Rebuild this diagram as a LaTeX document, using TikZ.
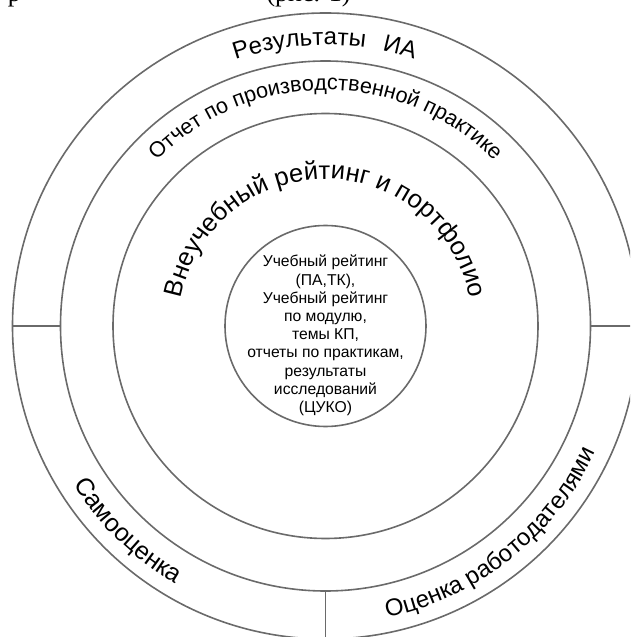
\documentclass[tikz,border=0pt]{standalone}
\usepackage{fontspec}
\setmainfont{Liberation Serif}
\newfontfamily\af{Liberation Sans}
\usetikzlibrary{decorations.text}
\definecolor{ringgray}{HTML}{6A6A6A}
\begin{document}
\begin{tikzpicture}[x=1pt,y=1pt,
  ring/.style={circle, draw=ringgray, line width=1.6pt, inner sep=0pt, outer sep=0pt},
  ringline/.style={draw=ringgray, line width=1.6pt},
  coretext/.style={align=center, inner sep=0pt, font=\af\fontsize{15.7}{18.2}\selectfont},
  fragment/.style={anchor=base, inner sep=0pt, font=\fontsize{26}{30}\selectfont}
]
\useasboundingbox (-325.5,-311) rectangle (304.5,326);
\clip (-325.5,-311) rectangle (304.5,326);
% rings
\node[ring, minimum size=626pt] (c1) at (0,0) {};
\node[ring, minimum size=530pt] (c2) at (0,0) {};
\node[ring, minimum size=425pt] (c3) at (0,0) {};
\node[ring, minimum size=201pt] (c4) at (0,0) {};
% radial separators
\draw[ringline] (c2.west) -- (c1.west);
\draw[ringline] (c2.east) -- (c1.east);
\draw[ringline] (c2.south) -- (c1.south);
% core text
\node[coretext] (core) at (0,-9.5) {Учебный рейтинг\\(ПА,ТК),\\Учебный рейтинг\\по модулю,\\темы КП,\\отчеты по практикам,\\результаты\\исследований\\(ЦУКО)};
% cut-off fragments of the text line above
\node[fragment] (fragA) at (-17,324.5) {(рис. 1)};
\node[fragment] (fragB) at (-311,324.5) {р};
% curved labels
\path[decorate, decoration={text along path, text align=center,
  text={|\af\fontsize{24}{28}\selectfont|Результаты}}]
  (115.3:281) arc[start angle=115.3, end angle=75.3, radius=281];
\path[decorate, decoration={text along path, text align=center,
  text={|\af\fontsize{24}{28}\selectfont|ИА}}]
  (85:281) arc[start angle=85, end angle=65, radius=281];
\path[decorate, decoration={text along path, text align=center,
  text={|\af\fontsize{21.6}{26}\selectfont|Отчет по производственной практике}}]
  (150:236) arc[start angle=150, end angle=30, radius=236];
\path[decorate, decoration={text along path, text align=center,
  text={|\af\fontsize{25.5}{30}\selectfont|Внеучебный рейтинг и портфолио}}]
  (185:147) arc[start angle=185, end angle=-5, radius=147];
\path[decorate, decoration={text along path, text align=center,
  text={|\af\fontsize{25}{30}\selectfont|Самооценка}}]
  (196:298) arc[start angle=196, end angle=256, radius=298];
\path[decorate, decoration={text along path, text align=center,
  text={|\af\fontsize{24}{28}\selectfont|Оценка работодателями}}]
  (270.5:298) arc[start angle=270.5, end angle=346.5, radius=298];
\end{tikzpicture}
\end{document}
